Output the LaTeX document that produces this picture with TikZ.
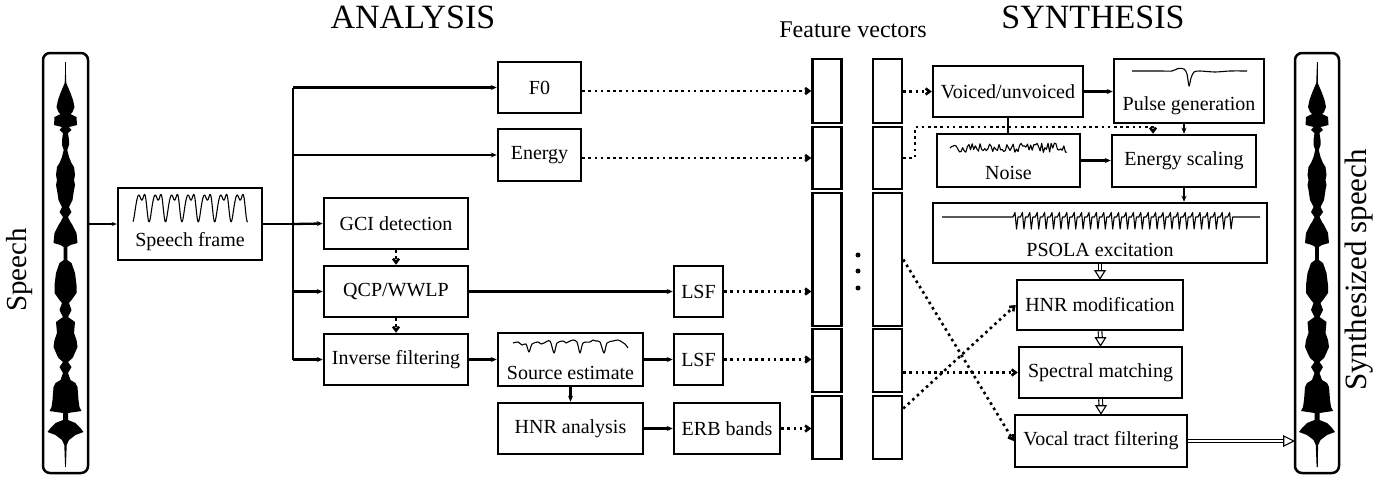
\documentclass[tikz,border=0pt]{standalone}
\usepackage{fontspec}
\setmainfont{Liberation Serif}
\usetikzlibrary{arrows.meta,calc}
\newcommand{\fsz}[1]{\fontsize{#1}{#1}\selectfont}
\newcommand{\blobdata}{62/0, 83/0.8, 93/5, 100/7.5, 107/9, 112/7, 114/5, 117/11, 125/11.5, 127/3.5, 130/6, 133/2.5, 140/3.5, 145/3.5, 150/1.8, 157/3.5, 163/6, 167/8.5, 175/9.5, 180/8.5, 185/9.5, 190/8.5, 200/7, 207/3.5, 212/6, 217/2.5, 222/5, 225/7, 233/11, 243/12, 245/5, 247/1.8, 260/1.8, 263/6, 273/9.5, 285/11, 293/11, 300/6, 303/3.5, 310/6, 317/2.5, 322/9.5, 333/8.5, 340/11, 347/12, 355/8.5, 358/7, 362/2.5, 367/6, 373/2.5, 380/5, 383/10, 387/12, 400/13, 407/14, 411/16, 413/2.5, 420/2.5, 423/10, 428/15, 432/18, 435/10, 440/3.5, 445/1.2, 467/0.4}
\newcommand{\speechblob}[1]{%
  \fill (#1,62) \foreach \yy/\ww in \blobdata { -- ({#1+\ww},\yy) } -- (#1,467) -- cycle;
  \fill (#1,62) \foreach \yy/\ww in \blobdata { -- ({#1-\ww},\yy) } -- (#1,467) -- cycle;
  \draw[line width=1pt] (#1,62) -- (#1,467);
}
\begin{document}
\begin{tikzpicture}[x=1pt,y=-1pt,
  box/.style={draw, line width=2.5pt, inner sep=0pt, minimum height=51pt, font=\fsz{20}},
  txt/.style={inner sep=0pt, font=\fsz{20}},
  fv/.style={draw, line width=2.5pt, inner sep=0pt, minimum width=29pt},
  conn/.style={line width=2.3pt, -{Stealth[length=6pt,width=5pt]}},
  plain/.style={line width=2.3pt},
  dotc/.style={line width=2.6pt, dash pattern=on 2.6pt off 3.6pt, -{Straight Barb[length=4pt,width=6pt]}},
  wave/.style={line width=1.1pt, line join=round},
  spbox/.style={draw, line width=2.5pt, rounded corners=7pt, minimum width=45pt, minimum height=420pt, inner sep=0pt},
  dbl/.style={draw, double, double distance=2.6pt, line width=1.1pt},
  tri/.style={draw, line width=1.1pt, fill=white, line join=miter},
  head/.style={inner sep=0pt, font=\fsz{34}},
]
\useasboundingbox (0,0) rectangle (1396,480);

% headings
\node[head] (hA) at (413,17) {ANALYSIS};
\node[head] (hS) at (1093,17) {SYNTHESIS};
\node[inner sep=0pt, font=\fsz{24}] (hF) at (853,30) {Feature vectors};

% speech boxes
\node[spbox] (spL) at (65.5,263) {};
\node[spbox, minimum width=44pt] (spR) at (1317,263) {};
\speechblob{65.5}
\speechblob{1317}
\node[inner sep=0pt, font=\fsz{29}, rotate=90] (lS) at (20,270) {Speech};
\node[inner sep=0pt, font=\fsz{31}, rotate=90] (lSS) at (1359,270) {Synthesized speech};

% speech frame
\node[box, minimum width=144pt, minimum height=72pt] (sf) at (190,224) {};
\node[txt] (sft) at (190,242) {Speech frame};
\draw[wave] plot[domain=0:7, samples=250, smooth] ({133+\x*16.4}, {204 + 11*cos(\x*360) + 6.6*cos(\x*720) - 1.5*sin(\x*1080)});
\draw[line width=1.3pt, -{Stealth[length=5pt,width=4pt]}] (spL.east |- sf.west) -- (sf.west);

% analysis boxes
\node[box, minimum width=83pt] (F0) at (539.5,87.5) {F0};
\node[box, minimum width=83pt, minimum height=52pt] (En) at (539.5,155) {Energy};
\node[box, minimum width=144pt] (GCI) at (396,223.5) {GCI detection};
\node[box, minimum width=144pt] (QCP) at (396,291.5) {QCP/WWLP};
\node[box, minimum width=144pt] (IF) at (396,359.5) {Inverse filtering};
\node[box, minimum width=145pt, minimum height=53pt] (SE) at (570.5,359.5) {};
\node[txt] (SEt) at (570.5,373) {Source estimate};
\draw[wave] plot[smooth] coordinates {(513,343) (518,342) (522,345) (526,344) (529,352) (532,344) (538,342) (541,344) (544,343) (550,341) (554,353) (557,343) (563,341) (566,343) (568,342) (573,340) (577,342) (580,353) (583,343) (590,342) (593,340) (596,341) (600,342) (604,353) (607,343) (613,341) (618,340) (622,342) (625,344) (628,348)};
\node[box, minimum width=145pt] (HNRa) at (570.5,428.5) {HNR analysis};
\node[box, minimum width=49pt] (LSF1) at (698.5,291.5) {LSF};
\node[box, minimum width=49pt] (LSF2) at (698.5,359.5) {LSF};
\node[box, minimum width=106pt] (ERB) at (727,428.5) {ERB bands};

% trunk
\coordinate (tr) at (293,224);
\draw[plain] (sf.east) -- (tr);
\draw[plain] (tr |- F0.west) -- (tr |- IF.west);
\draw[conn] (tr |- F0.west) -- (F0.west);
\draw[conn] (tr |- En.west) -- (En.west);
\draw[conn] (tr) -- (GCI.west);
\draw[conn] (tr |- QCP.west) -- (QCP.west);
\draw[conn] (tr |- IF.west) -- (IF.west);
\draw[dotc] (GCI.south) -- (QCP.north);
\draw[dotc] (QCP.south) -- (IF.north);
\draw[conn] (QCP.east) -- (LSF1.west);
\draw[conn] (IF.east) -- (SE.west);
\draw[conn] (SE.east) -- (LSF2.west);
\draw[conn] (SE.south) -- (HNRa.north);
\draw[conn] (HNRa.east) -- (ERB.west);

% feature vectors
\node[fv, minimum height=64pt] (fa1) at (827,91) {};
\node[fv, minimum height=62pt] (fa2) at (827,158) {};
\node[fv, minimum height=133pt] (fa3) at (827,259.5) {};
\node[fv, minimum height=63pt] (fa4) at (827,360.5) {};
\node[fv, minimum height=63pt] (fa5) at (827,427.5) {};
\node[fv, minimum height=64pt] (fb1) at (887.5,91) {};
\node[fv, minimum height=62pt] (fb2) at (887.5,158) {};
\node[fv, minimum height=133pt] (fb3) at (887.5,259.5) {};
\node[fv, minimum height=63pt] (fb4) at (887.5,360.5) {};
\node[fv, minimum height=63pt] (fb5) at (887.5,427.5) {};
\foreach \yy [count=\i] in {255,271,288} {
  \node[circle, fill, inner sep=0pt, minimum size=5pt] (dot\i) at (858,\yy) {};
}

\draw[dotc] (F0.east |- fa1.west) -- (fa1.west);
\draw[dotc] (En.east |- fa2.west) -- (fa2.west);
\draw[dotc] (LSF1.east) -- (LSF1.east -| fa3.west);
\draw[dotc] (LSF2.east) -- (LSF2.east -| fa4.west);
\draw[dotc] (ERB.east) -- (ERB.east -| fa5.west);

% synthesis boxes
\node[box, minimum width=150pt] (VU) at (1008,91.5) {Voiced/unvoiced};
\node[box, minimum width=150pt, minimum height=64pt] (PG) at (1189,91) {};
\node[txt] (PGt) at (1189,106) {Pulse generation};
\draw[wave] plot[smooth] coordinates {(1132,71) (1160,71) (1172,71) (1178,68.5) (1184,69) (1187,74) (1189,86) (1191,78) (1194,72) (1200,71) (1215,72) (1230,71) (1247,71)};
\node[box, minimum width=143pt, minimum height=53pt] (Noise) at (1008.5,160.5) {};
\node[txt] (Noiset) at (1008.5,173) {Noise};
\pgfmathsetseed{11}
\draw[wave] plot[domain=950:1067, samples=75] (\x, {148 + 5*rand});
\node[box, minimum width=144pt, minimum height=52pt] (ES) at (1184,161) {Energy scaling};
\node[box, minimum width=334pt, minimum height=60pt] (PS) at (1100,233) {};
\node[txt] (PSt) at (1100,250) {PSOLA excitation};
\draw[wave] (942,217) -- (1013,217) \foreach \i in {0,...,29} { -- ({1013+\i*7.4},217) -- ({1015+\i*7.4},212.5) -- ({1016.5+\i*7.4},229) -- ({1018+\i*7.4},217) } -- (1260,217);
\node[box, minimum width=166pt, minimum height=50pt] (HNRm) at (1100,305) {HNR modification};
\node[box, minimum width=163pt] (SM) at (1100.5,372.5) {Spectral matching};
\node[box, minimum width=172pt, minimum height=52pt] (VTF) at (1101,441) {Vocal tract filtering};

% synthesis connections
\draw[dotc] (fb1.east |- VU.west) -- (VU.west);
\coordinate (dA) at (915,127);
\coordinate (dB) at (1153,127);
\draw[dotc] (fb2.east) -| (dA) -- (dB) -- (dB |- ES.north);
\draw[conn] (VU.east) -- (VU.east -| PG.west);
\draw[plain] (VU.south) -- (VU.south |- Noise.north);
\draw[conn] (Noise.east) -- (Noise.east -| ES.west);
\draw[conn] (ES.north |- PG.south) -- (ES.north);
\draw[conn] (ES.south) -- (ES.south |- PS.north);
\draw[dotc] (fb3.east) -- (VTF.west);
\draw[dotc] (fb4.east |- SM.west) -- (SM.west);
\coordinate (f5s) at ($(fb5.east)+(0,-19)$);
\draw[dotc] (f5s) -- (HNRm.west);

% open double arrows
\draw[dbl] (PS.south) -- ($(HNRm.north)+(0,-7)$);
\draw[tri] (HNRm.north) -- ++(-5,-8) -- ++(10,0) -- cycle;
\draw[dbl] (HNRm.south) -- ($(SM.north)+(0,-7)$);
\draw[tri] (SM.north) -- ++(-5,-8) -- ++(10,0) -- cycle;
\draw[dbl] (SM.south) -- ($(VTF.north)+(0,-7)$);
\draw[tri] (VTF.north) -- ++(-5,-8) -- ++(10,0) -- cycle;
\coordinate (vt) at (VTF.east -| spR.west);
\draw[dbl] (VTF.east) -- ($(vt)+(-9,0)$);
\draw[tri] (vt) -- ++(-10,-5) -- ++(0,10) -- cycle;
\end{tikzpicture}
\end{document}
